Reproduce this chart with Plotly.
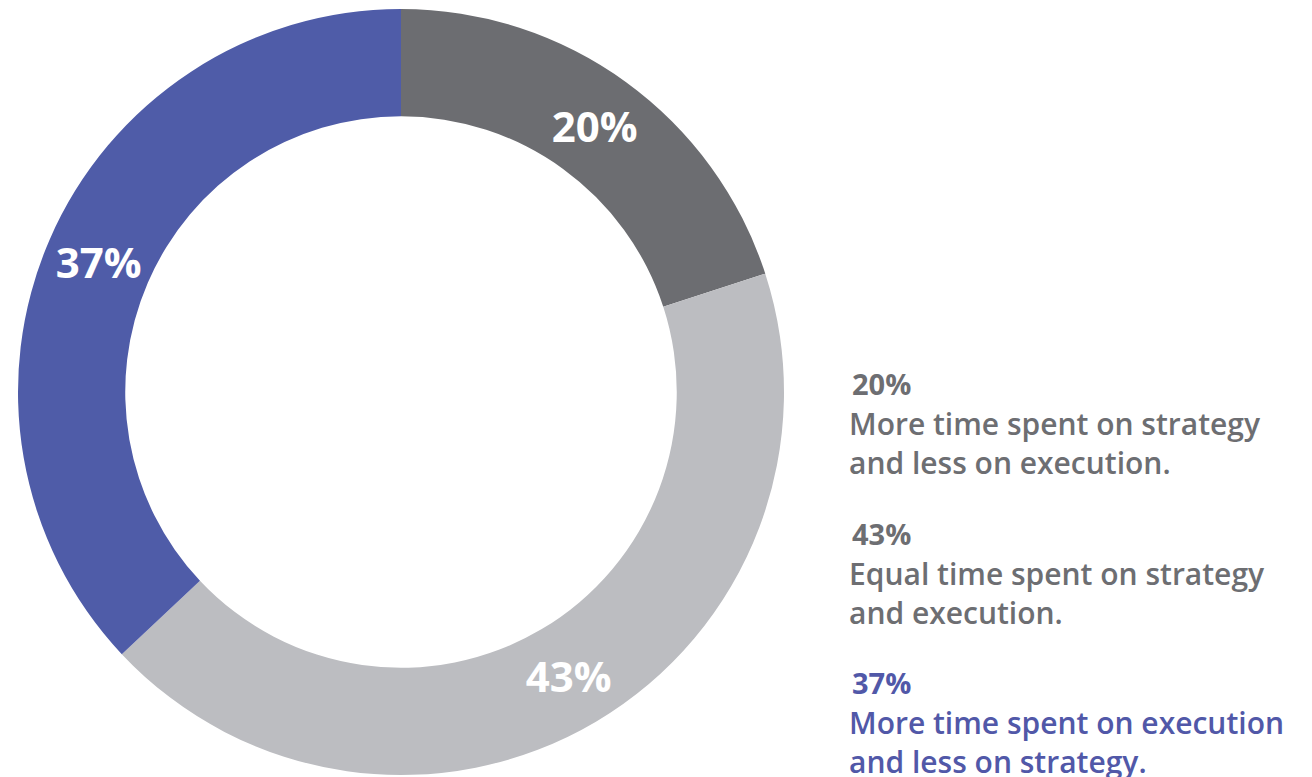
import plotly.graph_objects as go

labels = ["More time spent on strategy and less on execution.",
          "Equal time spent on strategy and execution.",
          "More time spent on execution and less on strategy."]
values = [20, 43, 37]
line1 = ["More time spent on strategy", "Equal time spent on strategy", "More time spent on execution"]
line2 = ["and less on execution.", "and execution.", "and less on strategy."]
colors = ["#6c6d71", "#bcbdc1", "#4f5ca8"]
text_colors = ["#6d6e72", "#6d6e72", "#5158a8"]

W, H = 1312, 777
fig = go.Figure()
fig.add_trace(go.Pie(
    labels=labels, values=values, sort=False, direction="clockwise", rotation=0,
    hole=0.72,
    marker=dict(colors=colors, line=dict(width=0)),
    texttemplate="%{value}%", textposition="inside",
    insidetextorientation="horizontal",
    textfont=dict(family="Open Sans", size=42, color="white", weight="bold"),
    domain=dict(x=[18 / W, 784 / W], y=[2 / H, 768 / H]),
    showlegend=False, hoverinfo="label+value",
))

block_tops = [383, 533, 682]
for i in range(len(values)):
    y0 = block_tops[i]
    fig.add_annotation(x=850 / W, y=1 - y0 / H, xref="paper", yref="paper",
                       xanchor="left", yanchor="middle", showarrow=False,
                       text=f"{values[i]}%",
                       font=dict(family="Open Sans", size=29, color=text_colors[i], weight="bold"))
    fig.add_annotation(x=848 / W, y=1 - (y0 + 60) / H, xref="paper", yref="paper",
                       xanchor="left", yanchor="middle", showarrow=False, align="left",
                       text=line1[i] + "<br>" + line2[i], borderpad=0,
                       font=dict(family="Open Sans", size=30, color=text_colors[i], weight=600))

fig.update_layout(width=W, height=H, margin=dict(l=0, r=0, t=0, b=0),
                  paper_bgcolor="white", plot_bgcolor="white")
fig.write_html("out.html")
